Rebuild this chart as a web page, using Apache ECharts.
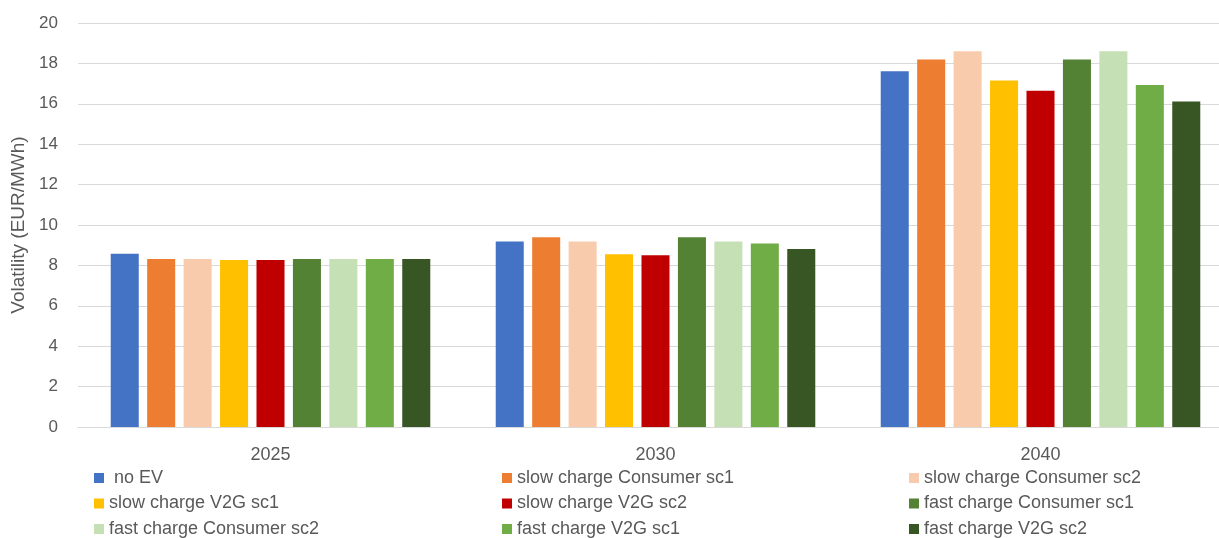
<!DOCTYPE html>
<html>
<head>
<meta charset="utf-8">
<title>Volatility by EV charging scenario</title>
<script src="https://cdn.jsdelivr.net/npm/echarts@6/dist/echarts.min.js"></script>
<style>
  html, body { margin: 0; padding: 0; background: #ffffff; overflow: hidden; }
  #chart { width: 1235px; height: 538px; }
</style>
</head>
<body>
<div id="chart"></div>
<script>
// Years on the category axis
const years = ['2025', '2030', '2040'];

// Scenario names (series order)
const scenarios = [
  'no EV',
  'slow charge Consumer sc1',
  'slow charge Consumer sc2',
  'slow charge V2G sc1',
  'slow charge V2G sc2',
  'fast charge Consumer sc1',
  'fast charge Consumer sc2',
  'fast charge V2G sc1',
  'fast charge V2G sc2'
];

// Volatility (EUR/MWh) per scenario, one value per year
const noEV               = [8.58, 9.18, 17.61];
const slowConsumerSc1    = [8.32, 9.39, 18.19];
const slowConsumerSc2    = [8.32, 9.18, 18.60];
const slowV2GSc1         = [8.27, 8.55, 17.15];
const slowV2GSc2         = [8.27, 8.50, 16.65];
const fastConsumerSc1    = [8.32, 9.39, 18.19];
const fastConsumerSc2    = [8.32, 9.18, 18.60];
const fastV2GSc1         = [8.32, 9.09, 16.93];
const fastV2GSc2         = [8.32, 8.81, 16.12];

const seriesValues = [
  noEV, slowConsumerSc1, slowConsumerSc2, slowV2GSc1, slowV2GSc2,
  fastConsumerSc1, fastConsumerSc2, fastV2GSc1, fastV2GSc2
];

const palette = [
  '#4472C4', '#ED7D31', '#F8CBAD', '#FFC000', '#C00000',
  '#548235', '#C5E0B4', '#70AD47', '#375623'
];

const textColor = '#595959';
const gridColor = '#D9D9D9';
const fontFamily = '"Liberation Sans", Arial, sans-serif';

// Legend laid out as three columns, filled row by row
const legendColumns = [
  { left: 94,  names: [scenarios[0], scenarios[3], scenarios[6]] },
  { left: 502, names: [scenarios[1], scenarios[4], scenarios[7]] },
  { left: 909, names: [scenarios[2], scenarios[5], scenarios[8]] }
];

const chart = echarts.init(document.getElementById('chart'), null, { renderer: 'canvas' });

chart.setOption({
  animation: false,
  color: palette,
  textStyle: { fontFamily: fontFamily },
  // the plot area runs slightly past the right edge of the visible page
  grid: { left: 78, top: 23, right: 2, bottom: 111, containLabel: false },
  xAxis: {
    type: 'category',
    data: years,
    axisTick: { show: false },
    axisLine: { lineStyle: { color: gridColor, width: 1 } },
    axisLabel: { color: textColor, fontSize: 18, margin: 19, fontFamily: fontFamily }
  },
  yAxis: {
    type: 'value',
    min: 0,
    max: 20,
    interval: 2,
    name: 'Volatility (EUR/MWh)',
    nameLocation: 'middle',
    nameRotate: 90,
    nameGap: 43,
    nameTextStyle: { color: textColor, fontSize: 19, fontFamily: fontFamily },
    axisLine: { show: false },
    axisTick: { show: false },
    axisLabel: { color: textColor, fontSize: 17, margin: 20, fontFamily: fontFamily },
    splitLine: { lineStyle: { color: gridColor, width: 1 } }
  },
  legend: legendColumns.map(col => ({
    data: col.names,
    orient: 'vertical',
    left: col.left,
    top: 468,
    width: 320,
    height: 80,
    padding: 0,
    itemWidth: 10,
    itemHeight: 10,
    itemGap: 5.5,
    icon: 'rect',
    selectedMode: false,
    formatter: name => (name === 'no EV' ? ' ' + name : name),
    textStyle: { color: textColor, fontSize: 18, lineHeight: 20, fontFamily: fontFamily }
  })),
  series: scenarios.map((name, i) => ({
    name: name,
    type: 'bar',
    data: seriesValues[i],
    barGap: '30%',
    barCategoryGap: '17%',
    itemStyle: { color: palette[i] }
  }))
});
</script>
</body>
</html>
